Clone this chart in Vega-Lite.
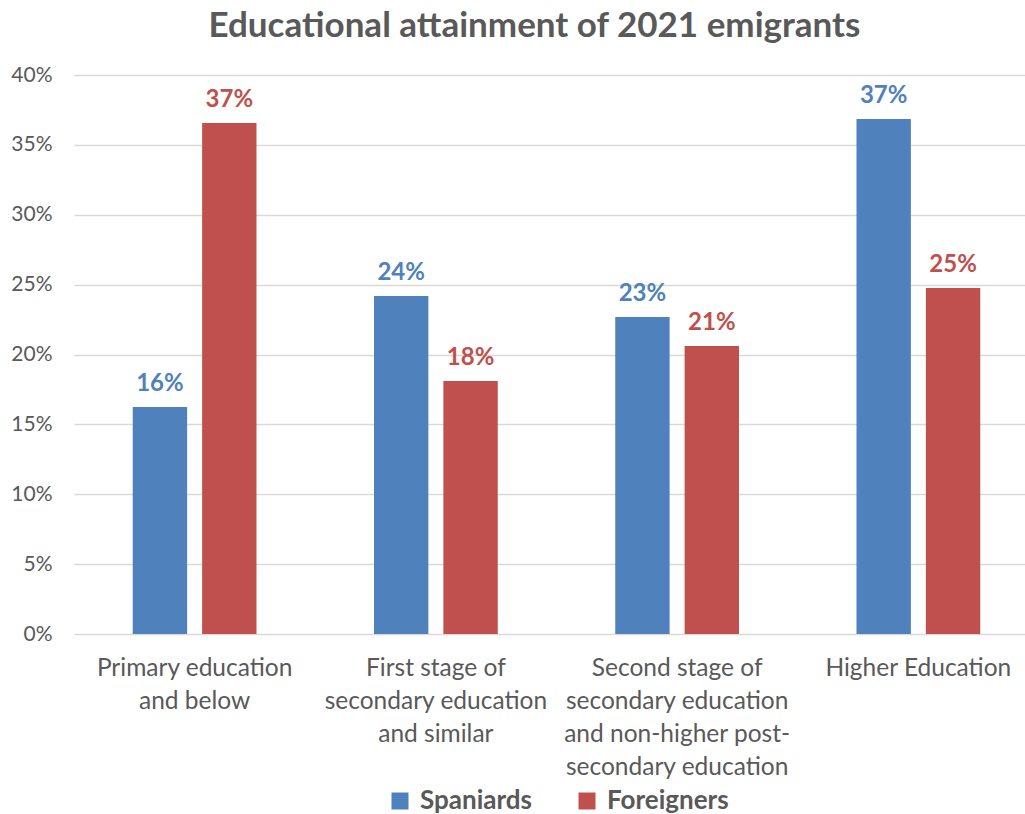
{
  "$schema": "https://vega.github.io/schema/vega-lite/v6.json",
  "width": 965,
  "height": 559,
  "autosize": {"type": "none"},
  "padding": {"left": 74, "top": 75, "right": 0, "bottom": 180},
  "background": "white",
  "title": {
    "text": "Educational attainment of 2021 emigrants",
    "font": "Lato",
    "fontSize": 35,
    "fontWeight": "bold",
    "color": "#595959",
    "anchor": "middle",
    "dx": -22,
    "baseline": "alphabetic",
    "offset": -8
  },
  "data": {
    "values": [
      {"category": "Primary education and below", "group": "Spaniards", "value": 0.1624},
      {"category": "Primary education and below", "group": "Foreigners", "value": 0.3657},
      {"category": "First stage of secondary education and similar", "group": "Spaniards", "value": 0.2419},
      {"category": "First stage of secondary education and similar", "group": "Foreigners", "value": 0.1810},
      {"category": "Second stage of secondary education and non-higher post-secondary education", "group": "Spaniards", "value": 0.2268},
      {"category": "Second stage of secondary education and non-higher post-secondary education", "group": "Foreigners", "value": 0.2061},
      {"category": "Higher Education", "group": "Spaniards", "value": 0.3685},
      {"category": "Higher Education", "group": "Foreigners", "value": 0.2476}
    ]
  },
  "encoding": {
    "x": {
      "field": "category",
      "type": "nominal",
      "sort": null,
      "title": null,
      "scale": {"paddingInner": 0.487, "paddingOuter": 0.2435},
      "axis": {
        "labelAngle": 0,
        "labelFont": "Lato",
        "labelFontSize": 24.5,
        "labelColor": "#595959",
        "labelLineHeight": 33,
        "labelPadding": 22,
        "labelBaseline": "top",
        "labelLimit": 300,
        "ticks": false,
        "domain": false,
        "grid": false,
        "labelExpr": "datum.value == 'Primary education and below' ? ['Primary education', 'and below'] : datum.value == 'First stage of secondary education and similar' ? ['First stage of', 'secondary education', 'and similar'] : datum.value == 'Higher Education' ? 'Higher Education' : ['Second stage of', 'secondary education', 'and non-higher post-', 'secondary education']"
      }
    },
    "xOffset": {
      "field": "group",
      "type": "nominal",
      "sort": ["Spaniards", "Foreigners"],
      "scale": {"paddingInner": 0.216, "paddingOuter": 0}
    },
    "y": {
      "field": "value",
      "type": "quantitative",
      "title": null,
      "scale": {"domain": [0, 0.4], "nice": false},
      "axis": {
        "format": ".0%",
        "values": [0, 0.05, 0.1, 0.15, 0.2, 0.25, 0.3, 0.35, 0.4],
        "labelFont": "Lato",
        "labelFontSize": 21,
        "labelColor": "#595959",
        "labelPadding": 22,
        "ticks": false,
        "domain": false,
        "gridColor": "#D9D9D9",
        "gridWidth": 1.5
      }
    },
    "color": {
      "field": "group",
      "type": "nominal",
      "sort": ["Spaniards", "Foreigners"],
      "scale": {"domain": ["Spaniards", "Foreigners"], "range": ["#4F81BD", "#C0504D"]},
      "legend": {
        "title": null,
        "orient": "none",
        "direction": "horizontal",
        "legendX": 313,
        "legendY": 713,
        "padding": 0,
        "symbolType": "square",
        "symbolSize": 289,
        "symbolStrokeWidth": 0,
        "symbolOpacity": 1,
        "labelFont": "Lato",
        "labelFontSize": 26,
        "labelFontWeight": "bold",
        "labelColor": "#595959",
        "labelOffset": 7,
        "columnPadding": 42
      }
    }
  },
  "layer": [
    {"mark": {"type": "bar", "stroke": null}},
    {
      "mark": {"type": "text", "baseline": "alphabetic", "dy": -16, "font": "Lato", "fontSize": 24, "fontWeight": "bold"},
      "encoding": {"text": {"field": "value", "type": "quantitative", "format": ".0%"}}
    }
  ],
  "config": {"view": {"stroke": null}}
}
